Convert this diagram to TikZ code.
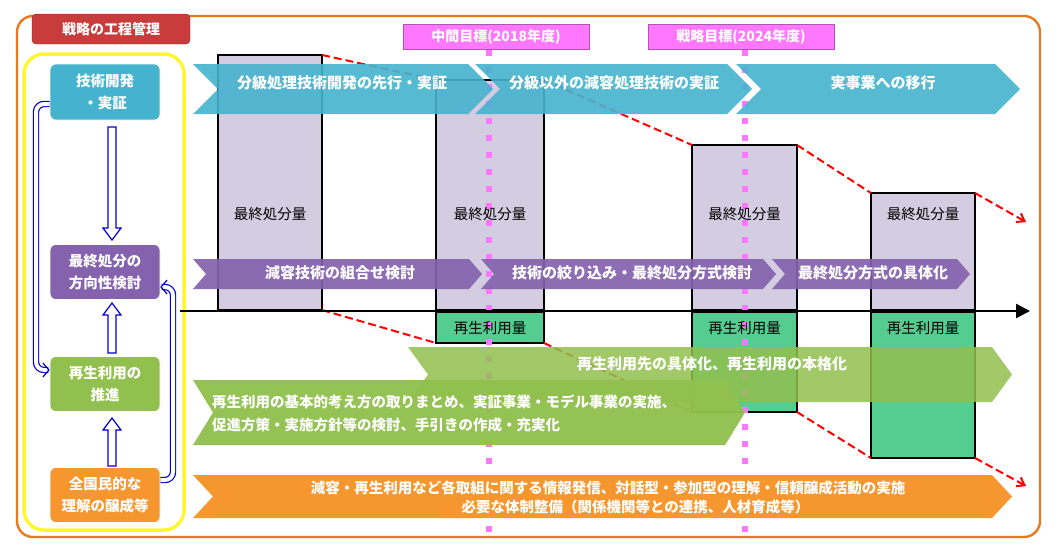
\documentclass[tikz,border=0pt]{standalone}
\usepackage{fontspec}
\setmainfont{Noto Sans CJK JP}
\usetikzlibrary{arrows.meta}
\definecolor{teal1}{HTML}{45B3CE}
\definecolor{purp}{HTML}{8462AD}
\definecolor{grn}{HTML}{92C04E}
\definecolor{orng}{HTML}{F5962E}
\definecolor{redt}{HTML}{C83C3C}
\definecolor{barp}{HTML}{D4CCE0}
\definecolor{barg}{HTML}{55CC90}
\definecolor{pinkm}{HTML}{FF77FF}
\definecolor{bordo}{HTML}{E87A1E}
\newcommand{\chevr}[6]{\fill[#6] (#1,#3) -- ({#2-#5},#3) -- (#2,{(#3+#4)/2}) -- ({#2-#5},#4) -- (#1,#4) -- ({#1+#5},{(#3+#4)/2}) -- cycle;}
\tikzset{
 lbox/.style={rounded corners=6pt, minimum width=110pt, text=white, font=\bfseries\fontsize{14.5}{22}\selectfont, align=center, inner sep=0pt, draw=white, line width=0.6pt},
 ctext/.style={text=white, font=\bfseries\fontsize{15}{18}\selectfont, inner sep=0pt},
 btext/.style={text=black, font=\fontsize{14.5}{17}\selectfont, inner sep=0pt},
 bar/.style={draw=black, line width=1.4pt},
 rdash/.style={red, line width=2pt, dash pattern=on 8pt off 4pt},
 hollow/.style={draw=blue!80!black, line width=1.2pt, fill=white},
 blue2/.style={draw=blue!80!black, double=white, double distance=4pt, line width=1.2pt},
 mile/.style={fill=pinkm, draw=pinkm!70!black, line width=0.4pt, text=white, font=\bfseries\fontsize{14}{16}\selectfont, minimum width=186pt, minimum height=25pt, inner sep=0pt},
}
\begin{document}
\begin{tikzpicture}[x=1pt,y=-1pt]
\useasboundingbox (0,0) rectangle (1056,550);
% outer frame
\draw[bordo, line width=2.4pt, rounded corners=16pt] (17,16) rectangle (1040,537);
\node[fill=redt, draw=redt!70!black, rounded corners=4pt, minimum width=158pt, minimum height=30pt, text=white, font=\bfseries\fontsize{14}{16}\selectfont, inner sep=0pt] (title) at (111,29) {戦略の工程管理};
% yellow frame
\draw[yellow!80!white, line width=3.5pt, rounded corners=20pt] (24,54) rectangle (184,530);
% milestones
\node[mile] (m1) at (496,37) {中間目標(2018年度)};
\node[mile] (m2) at (741,37) {戦略目標(2024年度)};
% bars
\draw[bar, fill=barp] (218,310) rectangle (322,55);
\draw[bar, fill=barp] (436,310) rectangle (544,80);
\draw[bar, fill=barp] (692,310) rectangle (797,145);
\draw[bar, fill=barp] (871,310) rectangle (975,193);
\draw[bar, fill=barg] (436,312) rectangle (544,343);
\draw[bar, fill=barg] (692,312) rectangle (797,412);
\draw[bar, fill=barg] (871,312) rectangle (975,458);
% milestone dotted lines
\draw[pinkm, line width=6pt, dash pattern=on 6pt off 11pt] (489,50) -- (489,540);
\draw[pinkm, line width=6pt, dash pattern=on 6pt off 11pt] (745,50) -- (745,540);
\foreach \x in {270,490,744.5,923}{\node[btext] at (\x,214) {最終処分量};}
\foreach \x in {490,744.5,923}{\node[btext] at (\x,328) {再生利用量};}
% red dashed
\draw[rdash] (322,55) -- (436,80);
\draw[rdash] (544,80) -- (692,145);
\draw[rdash] (797,145) -- (871,193);
\draw[rdash, -{Straight Barb[length=7pt,width=10pt]}] (975,193) -- (1026,222);
\draw[rdash] (322,310) -- (436,343);
\draw[rdash] (544,343) -- (692,412);
\draw[rdash] (797,412) -- (871,458);
\draw[rdash, -{Straight Barb[length=7pt,width=10pt]}] (975,458) -- (1026,486);
% axis
\draw[line width=2.4pt, -{Triangle[length=14pt,width=14pt]}] (180,311) -- (1030,311);
% teal chevrons
\chevr{193}{493}{64}{114}{25}{teal1, opacity=0.9}
\chevr{475}{752}{64}{114}{25}{teal1, opacity=0.9}
\chevr{736}{1020}{64}{114}{25}{teal1, opacity=0.9}
\node[ctext] (c1) at (342,83) {分級処理技術開発の先行・実証};
\node[ctext] (c2) at (614,83) {分級以外の減容処理技術の実証};
\node[ctext] (c3) at (883,83) {実事業への移行};
% purple chevrons
\chevr{193}{482}{259}{289}{13}{purp, opacity=0.92}
\chevr{481}{776}{259}{289}{13}{purp, opacity=0.92}
\chevr{772}{970}{259}{289}{13}{purp, opacity=0.92}
\node[ctext] (p1) at (340,273) {減容技術の組合せ検討};
\node[ctext] (p2) at (632,273) {技術の絞り込み・最終処分方式検討};
\node[ctext] (p3) at (873,273) {最終処分方式の具体化};
% green chevrons
\chevr{408}{1012}{347}{402}{20}{grn, opacity=0.85}
\node[ctext] (g1) at (712,364) {再生利用先の具体化、再生利用の本格化};
\chevr{193}{745}{380}{445}{20}{grn, opacity=0.97}
\node[ctext, anchor=west, align=left, font=\bfseries\fontsize{14.5}{23}\selectfont] (g2) at (212,413) {再生利用の基本的考え方の取りまとめ、実証事業・モデル事業の実施、\\促進方策・実施方針等の検討、手引きの作成・充実化};
% orange chevron
\chevr{193}{1012}{475}{518}{20}{orng}
\node[ctext, align=center, font=\bfseries\fontsize{14.5}{19}\selectfont] (o1) at (608,497) {減容・再生利用など各取組に関する情報発信、対話型・参加型の理解・信頼醸成活動の実施\\\hspace*{55pt}必要な体制整備（関係機関等との連携、人材育成等）};
% left boxes
\node[lbox, fill=teal1, minimum height=56pt] (b1) at (105,92) {技術開発\\・実証};
\node[lbox, fill=purp, minimum height=55pt] (b2) at (105,272) {最終処分の\\方向性検討};
\node[lbox, fill=grn, minimum height=55pt] (b3) at (105,384) {再生利用の\\推進};
\node[lbox, fill=orng, minimum height=55pt] (b4) at (105,495) {全国民的な\\理解の醸成等};
% hollow arrows
\draw[hollow] (108,127) -- (116,127) -- (116,228) -- (121,228) -- (112,240) -- (103,228) -- (108,228) -- cycle;
\draw[hollow] (108,353) -- (116,353) -- (116,315) -- (121,315) -- (112,303) -- (103,315) -- (108,315) -- cycle;
\draw[hollow] (108,466) -- (116,466) -- (116,430) -- (121,430) -- (112,418) -- (103,430) -- (108,430) -- cycle;
% blue loops
\draw[blue2, -{Straight Barb[length=6pt,width=14pt]}, rounded corners=8pt] (b1.west |- 0,104) -- (36,104) -- (36,370) -- (b3.west |- 0,370);
\draw[blue2, -{Straight Barb[length=6pt,width=14pt]}, rounded corners=8pt] (b4.east |- 0,480) -- (173,480) -- (173,287) -- (b2.east |- 0,287);
\end{tikzpicture}
\end{document}
